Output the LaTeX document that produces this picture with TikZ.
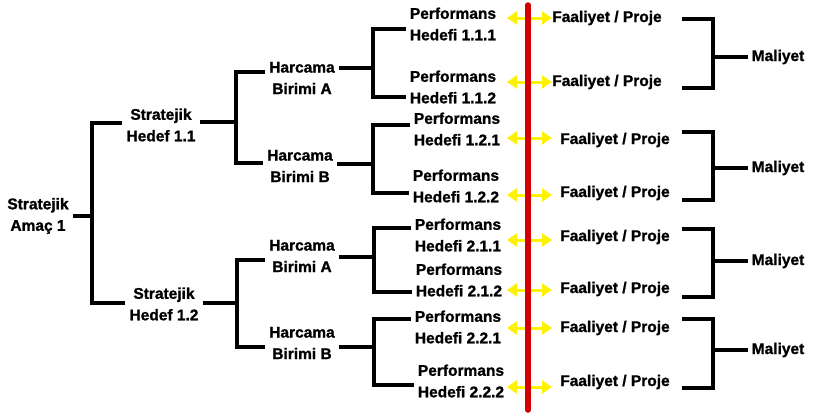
\documentclass[tikz,border=0pt]{standalone}
\usepackage{fontspec}
\setmainfont{Liberation Sans}[BoldFeatures={FakeBold=1.2}]
\usetikzlibrary{arrows.meta,calc}
\definecolor{cutred}{RGB}{210,0,0}

\begin{document}
\begin{tikzpicture}[x=1pt,y=-1pt,
  lbl/.style={align=center, inner sep=4pt, font=\bfseries\fontsize{15.5}{21.5}\selectfont},
  link/.style={line width=4pt, line join=miter},
  yarrow/.style={yellow, line width=3pt, {Triangle[width=13pt,length=10pt]}-{Triangle[width=13pt,length=10pt]}}]
\useasboundingbox (0,0) rectangle (815,415);

% ===== tree labels =====
\node[lbl] (amac) at (38,216) {Stratejik\\Amaç 1};
\node[lbl] (h11) at (161,125) {Stratejik\\Hedef 1.1};
\node[lbl] (h12) at (164,304) {Stratejik\\Hedef 1.2};
\node[lbl] (hA1) at (302,78) {Harcama\\Birimi A};
\node[lbl] (hB1) at (300,166) {Harcama\\Birimi B};
\node[lbl] (hA2) at (302,256) {Harcama\\Birimi A};
\node[lbl] (hB2) at (302,343) {Harcama\\Birimi B};
\node[lbl] (p111) at (453,24) {Performans\\Hedefi 1.1.1};
\node[lbl] (p112) at (453,87) {Performans\\Hedefi 1.1.2};
\node[lbl] (p121) at (457,129) {Performans\\Hedefi 1.2.1};
\node[lbl] (p122) at (456,186) {Performans\\Hedefi 1.2.2};
\node[lbl] (p211) at (458,235) {Performans\\Hedefi 2.1.1};
\node[lbl] (p212) at (459,280) {Performans\\Hedefi 2.1.2};
\node[lbl] (p221) at (458,327) {Performans\\Hedefi 2.2.1};
\node[lbl] (p222) at (461,381) {Performans\\Hedefi 2.2.2};

% ===== activities and costs =====
\node[lbl] (f1) at (607,18) {Faaliyet / Proje};
\node[lbl] (f2) at (607,82) {Faaliyet / Proje};
\node[lbl] (f3) at (615,140) {Faaliyet / Proje};
\node[lbl] (f4) at (615,193) {Faaliyet / Proje};
\node[lbl] (f5) at (615,237) {Faaliyet / Proje};
\node[lbl] (f6) at (615,289) {Faaliyet / Proje};
\node[lbl] (f7) at (615,328) {Faaliyet / Proje};
\node[lbl] (f8) at (615,382) {Faaliyet / Proje};
\node[lbl] (m1) at (778,57) {Maliyet};
\node[lbl] (m2) at (778,168) {Maliyet};
\node[lbl] (m3) at (778,261) {Maliyet};
\node[lbl] (m4) at (778,350) {Maliyet};

% ===== left brackets =====
\coordinate (j0) at (92,216);
\draw[link] (amac.east |- j0) -- (j0);
\draw[link] ($(h11.west)+(0,-2)$) -| (j0) |- ($(h12.west)+(0,-1)$);

\coordinate (j1) at (236,122);
\draw[link] (h11.east |- j1) -- (j1);
\draw[link] ($(hA1.west)+(0,-6)$) -| (j1) |- ($(hB1.west)+(0,-3)$);

\coordinate (j2) at (237,303);
\draw[link] (h12.east |- j2) -- (j2);
\draw[link] ($(hA2.west)+(0,4)$) -| (j2) |- ($(hB2.west)+(0,4)$);

\coordinate (j3) at (373,68);
\draw[link] (hA1.east |- j3) -- (j3);
\draw[link] ($(p111.west)+(0,5)$) -| (j3) |- ($(p112.west)+(0,10)$);

\coordinate (j4) at (373,164);
\draw[link] (hB1.east |- j4) -- (j4);
\draw[link] ($(p121.west)+(0,-4)$) -| (j4) |- ($(p122.west)+(0,7)$);

\coordinate (j5) at (374,257);
\draw[link] (hA2.east |- j5) -- (j5);
\draw[link] ($(p211.west)+(0,-7)$) -| (j5) |- ($(p212.west)+(0,12)$);

\coordinate (j6) at (374,347);
\draw[link] (hB2.east |- j6) -- (j6);
\draw[link] ($(p221.west)+(0,-8)$) -| (j6) |- ($(p222.west)+(0,4)$);

% ===== right brackets =====
\coordinate (bl) at (682,0);
\coordinate (bv) at (713,0);
\draw[link] ($(f1.east -| bl)+(0,1)$) -| (m1.west -| bv) |- ($(f2.east -| bl)+(0,6)$);
\draw[link] (m1.west -| bv) -- (m1.west);
\draw[link] ($(f3.east -| bl)+(0,-8)$) -| (m2.west -| bv) |- ($(f4.east -| bl)+(0,7)$);
\draw[link] (m2.west -| bv) -- (m2.west);
\draw[link] ($(f5.east -| bl)+(0,-8)$) -| (m3.west -| bv) |- ($(f6.east -| bl)+(0,8)$);
\draw[link] (m3.west -| bv) -- (m3.west);
\draw[link] ($(f7.east -| bl)+(0,-9)$) -| (m4.west -| bv) |- ($(f8.east -| bl)+(0,6)$);
\draw[link] (m4.west -| bv) -- (m4.west);

% ===== yellow links across the cut =====
\coordinate (al) at (507,0);
\coordinate (ar) at (552,0);
\draw[yarrow] (f1.west -| al) -- (f1.west -| ar);
\draw[yarrow] (f2.west -| al) -- (f2.west -| ar);
\draw[yarrow] ($(f3.west -| al)+(0,-2)$) -- ($(f3.west -| ar)+(0,-2)$);
\draw[yarrow] ($(f4.west -| al)+(0,2)$) -- ($(f4.west -| ar)+(0,2)$);
\draw[yarrow] ($(f5.west -| al)+(0,3)$) -- ($(f5.west -| ar)+(0,3)$);
\draw[yarrow] ($(f6.west -| al)+(0,1)$) -- ($(f6.west -| ar)+(0,1)$);
\draw[yarrow] (f7.west -| al) -- (f7.west -| ar);
\draw[yarrow] ($(f8.west -| al)+(0,5)$) -- ($(f8.west -| ar)+(0,5)$);

% ===== red cut line =====
\coordinate (rt) at (528,5);
\coordinate (rb) at (528,410);
\draw[cutred, line width=5.5pt, line cap=round] (rt) -- (rb);

\end{tikzpicture}
\end{document}
